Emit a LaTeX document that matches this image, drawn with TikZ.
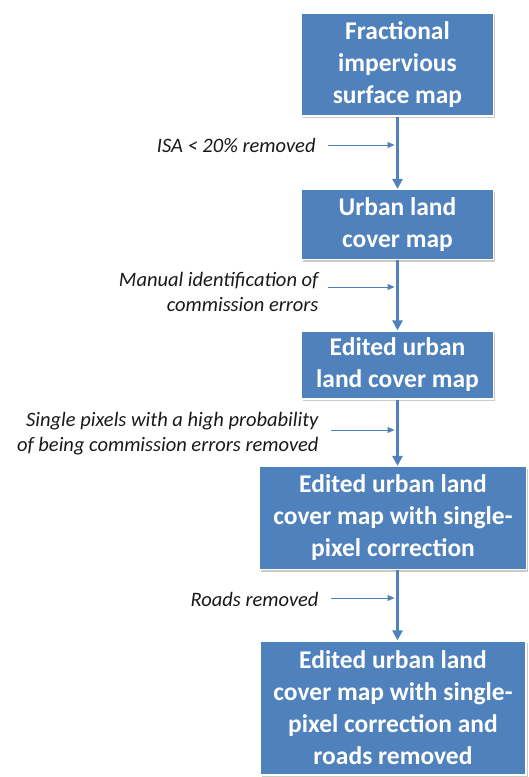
\documentclass[tikz,border=0pt]{standalone}
\usepackage{fontspec}
\setmainfont{Carlito}
\usetikzlibrary{arrows.meta, shadows}

\definecolor{boxblue}{HTML}{4F81BD}

\begin{document}
\begin{tikzpicture}[
            x = 1pt, y = -1pt,
            > = {Triangle[length=10pt, width=10pt]}, % arrow head style
            line width = 3pt, % main flow line
            boxblue
        ]

        \tikzset{
        stepbox/.style = {
            rectangle,
            fill = boxblue,
            draw = white,
            line width = 1.2pt,
            text = white,
            align = center,
            inner sep = 0pt,
            font = \bfseries\fontsize{25.5}{32}\selectfont,
            drop shadow = {shadow xshift=1.5pt, shadow yshift=-2pt,
                opacity=0.35, fill=black!60}
        },
        note/.style = {
            anchor = east,
            align = right,
            text = black!90,
            inner sep = 0pt,
            font = \itshape\fontsize{20.5}{25}\selectfont
        },
        side/.style = {
            ->,
            >= {Triangle[length=7pt, width=6pt]},
            line width = 1pt
        }
        }

        \useasboundingbox (0,0) rectangle (528,777);

        % the five maps
        \node[stepbox, minimum width=192pt, minimum height=103pt] (box1) at (397.5,64.5)
            {Fractional\\impervious\\surface map};
        \node[stepbox, minimum width=192pt, minimum height=70pt] (box2) at (397.5,224.5)
            {Urban land\\cover map};
        \node[stepbox, minimum width=192pt, minimum height=68pt] (box3) at (397.5,365)
            {Edited urban\\land cover map};
        \node[stepbox, minimum width=267pt, minimum height=103pt] (box4) at (393,518)
            {Edited urban land\\cover map with single-\\pixel correction};
        \node[stepbox, minimum width=266pt, minimum height=134pt] (box5) at (393,708)
            {Edited urban land\\cover map with single-\\pixel correction and\\roads removed};

        % processing steps
        \node[note] (lab1) at (317,145) {ISA < 20\% removed};
        \node[note] (lab2) at (320,292) {Manual identification of\\commission errors};
        \node[note] (lab3) at (320,434) {Single pixels with a high probability\\of being commission errors removed};
        \node[note] (lab4) at (320,599) {Roads removed};

        \draw[->] (box1.south) -- (box1.south |- box2.north);
        \draw[->] (box2.south) -- (box2.south |- box3.north);
        \draw[->] (box3.south) -- (box3.south |- box4.north);
        \draw[->] (box3.south |- box4.south) -- (box3.south |- box5.north);

        % small arrows feeding the flow line
        \coordinate (s1) at (328,145);
        \coordinate (s2) at (328,287);
        \coordinate (s3) at (331,430);
        \coordinate (s4) at (331,598);
        \draw[side] (s1) -- ([xshift=-3pt]s1 -| box1.south);
        \draw[side] (s2) -- ([xshift=-3pt]s2 -| box1.south);
        \draw[side] (s3) -- ([xshift=-3pt]s3 -| box1.south);
        \draw[side] (s4) -- ([xshift=-3pt]s4 -| box1.south);
    \end{tikzpicture}
\end{document}
